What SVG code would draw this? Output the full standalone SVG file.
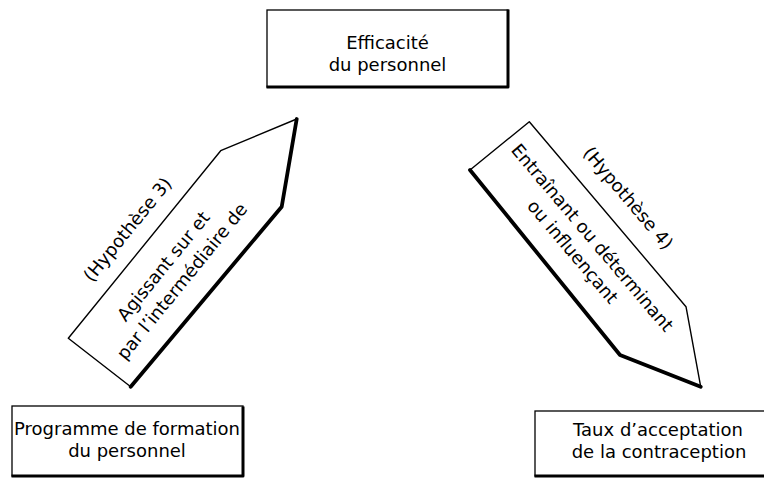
<svg xmlns="http://www.w3.org/2000/svg" width="764" height="485" viewBox="0 0 764 485">
<style>
.bg{fill:#ffffff}
.box{fill:#ffffff;stroke:#000;stroke-width:1.3}
.shadow{fill:none;stroke:#000;stroke-width:3;stroke-linejoin:round;stroke-linecap:square}
.arrow{fill:#ffffff;stroke:#000;stroke-width:1.4;stroke-linejoin:round}
.ashadow{fill:none;stroke:#000;stroke-width:3.8;stroke-linejoin:round;stroke-linecap:round}
text{font-family:"DejaVu Sans","Open Sans","Liberation Sans",sans-serif;font-size:18px;fill:#000;text-anchor:middle}
</style>
<rect class="bg" x="0" y="0" width="764" height="485"/>
<g id="connectors">
  <g id="arrow-h3">
    <polygon class="arrow" points="68.3,338.3 220.7,150.7 296.7,119 281.7,206.7 130.7,386.7"/>
    <polyline class="ashadow" points="296.7,119 281.7,206.7 130.7,386.7"/>
    <g transform="translate(99.5,362.5) rotate(-50.9)">
      <text x="121" y="-56">(Hypothèse 3)</text>
      <text x="115" y="-5">Agissant sur et</text>
      <text x="115" y="19">par l’intermédiaire de</text>
    </g>
  </g>
  <g id="arrow-h4">
    <polygon class="arrow" points="529.3,121.7 686,306.7 700.7,386.7 620,355 470,170"/>
    <polyline class="ashadow" points="700.7,386.7 620,355 470,170"/>
    <g transform="translate(499.7,145.8) rotate(49.7)">
      <text x="123" y="-58">(Hypothèse 4)</text>
      <text x="130" y="-5">Entraînant ou déterminant</text>
      <text x="128" y="19">ou influençant</text>
    </g>
  </g>
</g>
<g id="node-efficacite">
  <rect class="box" x="267" y="10" width="241" height="77"/>
  <polyline class="shadow" points="508,11 508,87 268,87"/>
  <text x="387.5" y="49">Efficacité</text>
  <text x="387.5" y="71">du personnel</text>
</g>
<g id="node-programme">
  <rect class="box" x="12" y="406" width="231" height="70"/>
  <polyline class="shadow" points="243,408 243,476 13,476"/>
  <text x="127" y="435">Programme de formation</text>
  <text x="127" y="457">du personnel</text>
</g>
<g id="node-taux">
  <rect class="box" x="535" y="411" width="240" height="65"/>
  <polyline class="shadow" points="536,476 770,476"/>
  <text x="658" y="436">Taux d’acceptation</text>
  <text x="659" y="458">de la contraception</text>
</g>
</svg>
